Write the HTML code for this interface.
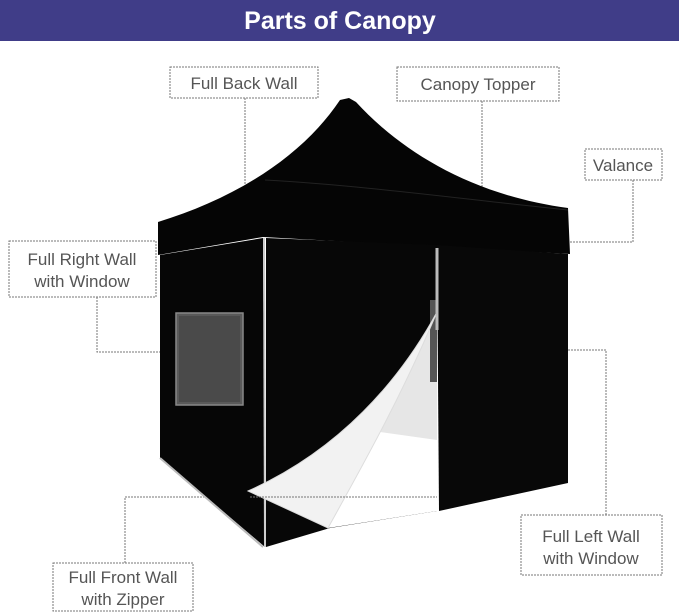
<!DOCTYPE html>
<html><head><meta charset="utf-8"><style>
html,body{margin:0;padding:0;background:#fff;}
svg{display:block;}
text{font-family:"Liberation Sans","DejaVu Sans",sans-serif;}
</style></head><body>
<svg width="679" height="616" viewBox="0 0 679 616" xmlns="http://www.w3.org/2000/svg">
<rect x="0" y="0" width="679" height="41" fill="#403d88"/>
<text x="340" y="29" text-anchor="middle" font-size="25" font-weight="bold" fill="#fff">Parts of Canopy</text>

<!-- connectors (behind tent) -->
<g stroke="#777" stroke-width="1" stroke-dasharray="2,1" fill="none">
<polyline points="245,98 245,186"/>
<polyline points="482,101 482,188"/>
<polyline points="633,180 633,242 570,242"/>
<polyline points="97,297 97,352 160,352"/>
<polyline points="606,515 606,350 568,350"/>
<polyline points="125,563 125,497 250,497"/>
</g>

<!-- roof -->
<path d="M158,222 C230,200 300,160 340,100 L349,98 L356,102 C400,150 470,195 568,208 L570,254 L263,237 L158,255 Z" fill="#050505"/>
<path d="M265,180 C360,185 470,200 568,210" stroke="#222" stroke-width="1" fill="none"/>
<!-- side wall -->
<path d="M160,255 L263,238 L265,547 L160,458 Z" fill="#060606"/>
<line x1="160" y1="458" x2="263" y2="547" stroke="#bbb" stroke-width="2"/>
<line x1="264" y1="238" x2="265" y2="547" stroke="#ccc" stroke-width="2"/>
<rect x="176" y="313" width="67" height="92" fill="#5a5a5a" stroke="#888" stroke-width="1.5"/>
<rect x="179" y="316" width="61" height="86" fill="#4a4a4a"/>
<!-- front wall -->
<path d="M266,238 L437,245 L437,511 L330,528 L266,547 Z" fill="#070707"/>
<!-- opening -->
<path d="M437,312 C400,400 360,470 328,528 L437,511 Z" fill="#fff"/>
<path d="M437,316 L437,440 L380,432 C395,400 420,350 437,316 Z" fill="#e6e6e6"/>
<rect x="430" y="300" width="7" height="82" fill="#555"/>
<!-- flap -->
<path d="M437,312 C400,380 340,450 248,491 L328,528 C360,470 400,400 437,312 Z" fill="#f2f2f2" stroke="#ddd" stroke-width="1"/>
<!-- right front panel -->
<path d="M437,245 L568,254 L568,483 L439,511 Z" fill="#080808"/>
<line x1="437" y1="248" x2="437" y2="330" stroke="#bbb" stroke-width="3"/>

<polyline points="250,497 437,497" stroke="#777" stroke-width="1" stroke-dasharray="2,1" fill="none"/>

<g stroke="#777" stroke-width="1" stroke-dasharray="2,1" fill="#fff">
<rect x="170" y="67" width="148" height="31"/>
<rect x="397" y="67" width="162" height="34"/>
<rect x="585" y="149" width="77" height="31"/>
<rect x="9" y="241" width="147" height="56"/>
<rect x="521" y="515" width="141" height="60"/>
<rect x="53" y="563" width="140" height="48"/>
</g>
<g font-size="17" fill="#555" text-anchor="middle">
<text x="244" y="89">Full Back Wall</text>
<text x="478" y="90">Canopy Topper</text>
<text x="623" y="171">Valance</text>
<text x="82" y="265">Full Right Wall</text>
<text x="82" y="287">with Window</text>
<text x="591" y="542">Full Left Wall</text>
<text x="591" y="564">with Window</text>
<text x="123" y="583">Full Front Wall</text>
<text x="123" y="605">with Zipper</text>
</g>
</svg>
</body></html>
